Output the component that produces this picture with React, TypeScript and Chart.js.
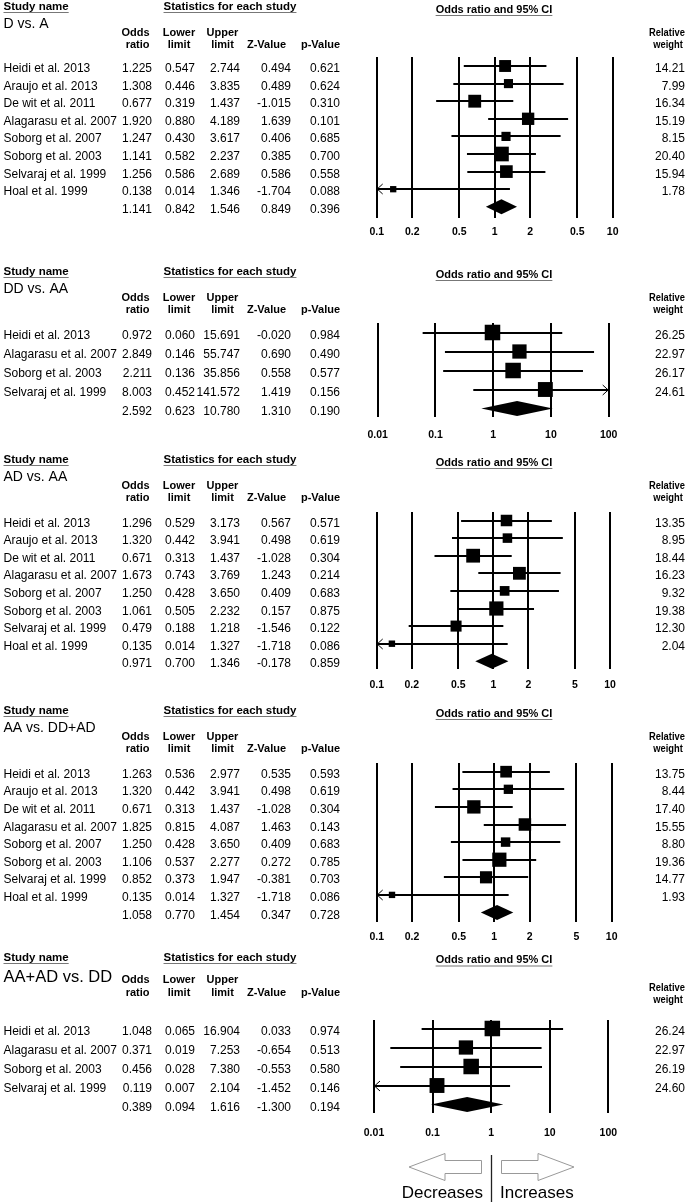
import React, { useEffect, useRef } from 'react';
import { Chart, registerables } from 'chart.js';
Chart.register(...registerables);

const FONT = '"Liberation Sans", Arial, Helvetica, sans-serif';
const W = 697;

// ---------- Panel 1: D vs. A ----------
const p1Title = 'D vs. A';
const p1Studies = ['Heidi et al. 2013', 'Araujo et al. 2013', 'De wit et al. 2011', 'Alagarasu et al. 2007', 'Soborg et al. 2007', 'Soborg et al. 2003', 'Selvaraj et al. 1999', 'Hoal et al. 1999'];
const p1Odds = [1.225, 1.308, 0.677, 1.920, 1.247, 1.141, 1.256, 0.138];
const p1Lower = [0.547, 0.446, 0.319, 0.880, 0.430, 0.582, 0.586, 0.014];
const p1Upper = [2.744, 3.835, 1.437, 4.189, 3.617, 2.237, 2.689, 1.346];
const p1Z = [0.494, 0.489, -1.015, 1.639, 0.406, 0.385, 0.586, -1.704];
const p1P = [0.621, 0.624, 0.310, 0.101, 0.685, 0.700, 0.558, 0.088];
const p1Weight = [14.21, 7.99, 16.34, 15.19, 8.15, 20.40, 15.94, 1.78];
const p1Summary = [1.141, 0.842, 1.546, 0.849, 0.396];
const p1Ticks = [0.1, 0.2, 0.5, 1, 2, 5, 10];
const p1TickLabels = ['0.1', '0.2', '0.5', '1', '2', '0.5', '10'];

// ---------- Panel 2: DD vs. AA ----------
const p2Title = 'DD vs. AA';
const p2Studies = ['Heidi et al. 2013', 'Alagarasu et al. 2007', 'Soborg et al. 2003', 'Selvaraj et al. 1999'];
const p2Odds = [0.972, 2.849, 2.211, 8.003];
const p2Lower = [0.060, 0.146, 0.136, 0.452];
const p2Upper = [15.691, 55.747, 35.856, 141.572];
const p2Z = [-0.020, 0.690, 0.558, 1.419];
const p2P = [0.984, 0.490, 0.577, 0.156];
const p2Weight = [26.25, 22.97, 26.17, 24.61];
const p2Summary = [2.592, 0.623, 10.780, 1.310, 0.190];
const p2Ticks = [0.01, 0.1, 1, 10, 100];
const p2TickLabels = ['0.01', '0.1', '1', '10', '100'];

// ---------- Panel 3: AD vs. AA ----------
const p3Title = 'AD vs. AA';
const p3Studies = ['Heidi et al. 2013', 'Araujo et al. 2013', 'De wit et al. 2011', 'Alagarasu et al. 2007', 'Soborg et al. 2007', 'Soborg et al. 2003', 'Selvaraj et al. 1999', 'Hoal et al. 1999'];
const p3Odds = [1.296, 1.320, 0.671, 1.673, 1.250, 1.061, 0.479, 0.135];
const p3Lower = [0.529, 0.442, 0.313, 0.743, 0.428, 0.505, 0.188, 0.014];
const p3Upper = [3.173, 3.941, 1.437, 3.769, 3.650, 2.232, 1.218, 1.327];
const p3Z = [0.567, 0.498, -1.028, 1.243, 0.409, 0.157, -1.546, -1.718];
const p3P = [0.571, 0.619, 0.304, 0.214, 0.683, 0.875, 0.122, 0.086];
const p3Weight = [13.35, 8.95, 18.44, 16.23, 9.32, 19.38, 12.30, 2.04];
const p3Summary = [0.971, 0.700, 1.346, -0.178, 0.859];
const p3Ticks = [0.1, 0.2, 0.5, 1, 2, 5, 10];
const p3TickLabels = ['0.1', '0.2', '0.5', '1', '2', '5', '10'];

// ---------- Panel 4: AA vs. DD+AD ----------
const p4Title = 'AA vs. DD+AD';
const p4Studies = ['Heidi et al. 2013', 'Araujo et al. 2013', 'De wit et al. 2011', 'Alagarasu et al. 2007', 'Soborg et al. 2007', 'Soborg et al. 2003', 'Selvaraj et al. 1999', 'Hoal et al. 1999'];
const p4Odds = [1.263, 1.320, 0.671, 1.825, 1.250, 1.106, 0.852, 0.135];
const p4Lower = [0.536, 0.442, 0.313, 0.815, 0.428, 0.537, 0.373, 0.014];
const p4Upper = [2.977, 3.941, 1.437, 4.087, 3.650, 2.277, 1.947, 1.327];
const p4Z = [0.535, 0.498, -1.028, 1.463, 0.409, 0.272, -0.381, -1.718];
const p4P = [0.593, 0.619, 0.304, 0.143, 0.683, 0.785, 0.703, 0.086];
const p4Weight = [13.75, 8.44, 17.40, 15.55, 8.80, 19.36, 14.77, 1.93];
const p4Summary = [1.058, 0.770, 1.454, 0.347, 0.728];
const p4Ticks = [0.1, 0.2, 0.5, 1, 2, 5, 10];
const p4TickLabels = ['0.1', '0.2', '0.5', '1', '2', '5', '10'];

// ---------- Panel 5: AA+AD vs. DD ----------
const p5Title = 'AA+AD vs. DD';
const p5Studies = ['Heidi et al. 2013', 'Alagarasu et al. 2007', 'Soborg et al. 2003', 'Selvaraj et al. 1999'];
const p5Odds = [1.048, 0.371, 0.456, 0.119];
const p5Lower = [0.065, 0.019, 0.028, 0.007];
const p5Upper = [16.904, 7.253, 7.380, 2.104];
const p5Z = [0.033, -0.654, -0.553, -1.452];
const p5P = [0.974, 0.513, 0.580, 0.146];
const p5Weight = [26.24, 22.97, 26.19, 24.60];
const p5Summary = [0.389, 0.094, 1.616, -1.300, 0.194];
const p5Ticks = [0.01, 0.1, 1, 10, 100];
const p5TickLabels = ['0.01', '0.1', '1', '10', '100'];

const footerLabels = ['Decreases', 'Increases'];

type PanelData = {
  title: string; studies: string[]; odds: number[]; lower: number[]; upper: number[];
  z: number[]; p: number[]; weight: number[]; summary: number[]; ticks: number[]; tickLabels: string[];
};

type Hdr = { study: number; ci: number; title: number; odds: number; ratio: number; rel: number; weight: number };

type PanelLayout = {
  top: number; height: number; row0: number; step: number; lineTop: number; lineBottom: number;
  tickY: number; xMinPx: number; xMaxPx: number; titleSize: number; hdr: Hdr; sqA: number; sqB: number; footer?: boolean;
};

const hdrStd: Hdr = { study: 10, ci: 12.5, title: 28, odds: 36, ratio: 48, rel: 36, weight: 48 };

const panels: { data: PanelData; layout: PanelLayout }[] = [
  {
    data: { title: p1Title, studies: p1Studies, odds: p1Odds, lower: p1Lower, upper: p1Upper, z: p1Z, p: p1P, weight: p1Weight, summary: p1Summary, ticks: p1Ticks, tickLabels: p1TickLabels },
    layout: { top: 0, height: 265, row0: 66, step: 17.6, lineTop: 57, lineBottom: 218, tickY: 232, xMinPx: 376.7, xMaxPx: 612.7, titleSize: 14, hdr: hdrStd, sqA: 5.5, sqB: 0.45 },
  },
  {
    data: { title: p2Title, studies: p2Studies, odds: p2Odds, lower: p2Lower, upper: p2Upper, z: p2Z, p: p2P, weight: p2Weight, summary: p2Summary, ticks: p2Ticks, tickLabels: p2TickLabels },
    layout: { top: 265, height: 188, row0: 332.5, step: 19, lineTop: 323, lineBottom: 417, tickY: 435, xMinPx: 377.7, xMaxPx: 608.7, titleSize: 14, hdr: hdrStd, sqA: 5.3, sqB: 0.39 },
  },
  {
    data: { title: p3Title, studies: p3Studies, odds: p3Odds, lower: p3Lower, upper: p3Upper, z: p3Z, p: p3P, weight: p3Weight, summary: p3Summary, ticks: p3Ticks, tickLabels: p3TickLabels },
    layout: { top: 453, height: 251, row0: 520.5, step: 17.6, lineTop: 512, lineBottom: 669, tickY: 685, xMinPx: 376.7, xMaxPx: 610, titleSize: 14, hdr: hdrStd, sqA: 5.5, sqB: 0.45 },
  },
  {
    data: { title: p4Title, studies: p4Studies, odds: p4Odds, lower: p4Lower, upper: p4Upper, z: p4Z, p: p4P, weight: p4Weight, summary: p4Summary, ticks: p4Ticks, tickLabels: p4TickLabels },
    layout: { top: 704, height: 246, row0: 771.7, step: 17.6, lineTop: 763, lineBottom: 921.5, tickY: 937, xMinPx: 376.7, xMaxPx: 611.7, titleSize: 14, hdr: hdrStd, sqA: 5.5, sqB: 0.45 },
  },
  {
    data: { title: p5Title, studies: p5Studies, odds: p5Odds, lower: p5Lower, upper: p5Upper, z: p5Z, p: p5P, weight: p5Weight, summary: p5Summary, ticks: p5Ticks, tickLabels: p5TickLabels },
    layout: { top: 950, height: 252, row0: 1028.5, step: 19, lineTop: 1020, lineBottom: 1113, tickY: 1133, xMinPx: 374, xMaxPx: 608.3, titleSize: 16.5,
      hdr: { study: 11, ci: 13, title: 32, odds: 33, ratio: 46, rel: 41, weight: 53 }, sqA: 5.3, sqB: 0.39, footer: true },
  },
];

function ForestPanel({ data, layout }: { data: PanelData; layout: PanelLayout }) {
  const ref = useRef<HTMLCanvasElement>(null);
  useEffect(() => {
    const canvas = ref.current!;
    const D = data;
    const L = layout;
    const n = D.studies.length;
    const yMin = (L.lineTop - L.row0) / L.step;
    const yMax = (L.lineBottom - L.row0) / L.step;
    const axisH = L.tickY - L.lineBottom + 10;
    const tickSize = 10.5;
    const tickPad = L.tickY - L.lineBottom - (tickSize * 1.2) / 2;
    const xMinVal = D.ticks[0];
    const xMaxVal = D.ticks[D.ticks.length - 1];
    const sq = D.weight.map((wt) => (L.sqA + L.sqB * wt) / Math.SQRT2);

    const forestPlugin = {
      id: 'forest',
      beforeDatasetsDraw(chart: any) {
        const { ctx } = chart;
        const x = chart.scales.x;
        const y = chart.scales.y;
        ctx.save();
        ctx.strokeStyle = '#000';
        ctx.fillStyle = '#000';
        for (let i = 0; i < n; i++) {
          const lo = Math.max(D.lower[i], xMinVal);
          const hi = Math.min(D.upper[i], xMaxVal);
          const py = Math.round(y.getPixelForValue(i));
          const x1 = x.getPixelForValue(lo);
          const x2 = x.getPixelForValue(hi);
          ctx.lineWidth = 2;
          ctx.beginPath();
          ctx.moveTo(x1, py);
          ctx.lineTo(x2, py);
          ctx.stroke();
          ctx.lineWidth = 1;
          if (D.lower[i] < xMinVal) {
            ctx.beginPath();
            ctx.moveTo(x1 + 6, py - 5);
            ctx.lineTo(x1 + 0.5, py);
            ctx.lineTo(x1 + 6, py + 5);
            ctx.stroke();
          }
          if (D.upper[i] > xMaxVal) {
            ctx.beginPath();
            ctx.moveTo(x2 - 6, py - 5);
            ctx.lineTo(x2 - 0.5, py);
            ctx.lineTo(x2 - 6, py + 5);
            ctx.stroke();
          }
        }
        // summary diamond
        const sy = y.getPixelForValue(n);
        const h = 7.5;
        ctx.beginPath();
        ctx.moveTo(x.getPixelForValue(D.summary[1]), sy);
        ctx.lineTo(x.getPixelForValue(D.summary[0]), sy - h);
        ctx.lineTo(x.getPixelForValue(D.summary[2]), sy);
        ctx.lineTo(x.getPixelForValue(D.summary[0]), sy + h);
        ctx.closePath();
        ctx.fill();
        ctx.restore();
      },
    };

    const textPlugin = {
      id: 'texts',
      afterDraw(chart: any) {
        const { ctx } = chart;
        const x = chart.scales.x;
        const y = chart.scales.y;
        const H = L.hdr;
        const put = (s: string, px: number, py: number, align: CanvasTextAlign, font: string) => {
          ctx.font = font;
          ctx.textAlign = align;
          ctx.textBaseline = 'alphabetic';
          ctx.fillText(s, px, py);
        };
        const underline = (x1: number, x2: number, py: number) => {
          ctx.save();
          ctx.strokeStyle = '#777';
          ctx.lineWidth = 1;
          ctx.beginPath();
          ctx.moveTo(x1, py + 0.5);
          ctx.lineTo(x2, py + 0.5);
          ctx.stroke();
          ctx.restore();
        };
        ctx.save();
        ctx.fillStyle = '#000';
        const bold115 = `bold 11.5px ${FONT}`;
        const bold11 = `bold 11px ${FONT}`;
        const reg12 = `12px ${FONT}`;
        // top headings
        put('Study name', 3.5, H.study, 'left', bold115);
        let w = ctx.measureText('Study name').width;
        underline(3.5, 3.5 + w, H.study + 2);
        put('Statistics for each study', 230, H.study, 'center', bold115);
        w = ctx.measureText('Statistics for each study').width;
        underline(230 - w / 2, 230 + w / 2, H.study + 2);
        put('Odds ratio and 95% CI', 494, H.ci, 'center', bold11);
        w = ctx.measureText('Odds ratio and 95% CI').width;
        underline(494 - w / 2, 494 + w / 2, H.ci + 2.5);
        // title
        put(D.title, 3.5, H.title, 'left', `${L.titleSize}px ${FONT}`);
        // column headers
        put('Odds', 149.5, H.odds, 'right', bold11);
        put('ratio', 149.5, H.ratio, 'right', bold11);
        put('Lower', 179, H.odds, 'center', bold11);
        put('limit', 179, H.ratio, 'center', bold11);
        put('Upper', 222.5, H.odds, 'center', bold11);
        put('limit', 222.5, H.ratio, 'center', bold11);
        put('Z-Value', 266.5, H.ratio, 'center', bold11);
        put('p-Value', 320.5, H.ratio, 'center', bold11);
        const squeezed = (s: string, cx: number, py: number) => {
          ctx.save();
          ctx.translate(cx, py);
          ctx.scale(0.85, 1);
          put(s, 0, 0, 'center', bold11);
          ctx.restore();
        };
        squeezed('Relative', 667, H.rel);
        squeezed('weight', 668, H.weight);
        // rows
        const cols = (vals: number[], py: number) => {
          put(vals[0].toFixed(3), 152, py, 'right', reg12);
          put(vals[1].toFixed(3), 195, py, 'right', reg12);
          put(vals[2].toFixed(3), 240, py, 'right', reg12);
          put(vals[3].toFixed(3), 291, py, 'right', reg12);
          put(vals[4].toFixed(3), 340, py, 'right', reg12);
        };
        for (let i = 0; i < n; i++) {
          const py = y.getPixelForValue(i) + 6;
          put(D.studies[i], 3.5, py, 'left', reg12);
          cols([D.odds[i], D.lower[i], D.upper[i], D.z[i], D.p[i]], py);
          put(D.weight[i].toFixed(2), 685, py, 'right', reg12);
        }
        cols(D.summary, y.getPixelForValue(n) + 6);

        if (L.footer) {
          const cx = Math.round(x.getPixelForValue(1)) + 0.5;
          const base = 1167 - L.top;
          ctx.strokeStyle = '#222';
          ctx.lineWidth = 1.3;
          ctx.beginPath();
          ctx.moveTo(cx, 1155 - L.top);
          ctx.lineTo(cx, L.height);
          ctx.stroke();
          ctx.strokeStyle = '#999';
          ctx.fillStyle = '#fff';
          ctx.lineWidth = 1;
          for (const dir of [-1, 1]) {
            ctx.beginPath();
            ctx.moveTo(cx + dir * 10, base - 6.5);
            ctx.lineTo(cx + dir * 46.5, base - 6.5);
            ctx.lineTo(cx + dir * 46.5, base - 13.5);
            ctx.lineTo(cx + dir * 82.5, base);
            ctx.lineTo(cx + dir * 46.5, base + 13.5);
            ctx.lineTo(cx + dir * 46.5, base + 6.5);
            ctx.lineTo(cx + dir * 10, base + 6.5);
            ctx.closePath();
            ctx.fill();
            ctx.stroke();
          }
          ctx.fillStyle = '#000';
          put(footerLabels[0], cx - 8.5, 1198 - L.top, 'right', `17px ${FONT}`);
          put(footerLabels[1], cx + 8.5, 1198 - L.top, 'left', `17px ${FONT}`);
        }
        ctx.restore();
      },
    };

    const chart = new Chart(canvas, {
      type: 'scatter',
      data: {
        datasets: [
          {
            data: D.odds.map((v, i) => ({ x: v, y: i })),
            pointStyle: 'rect',
            pointRadius: sq,
            pointHoverRadius: sq,
            backgroundColor: '#000',
            borderWidth: 0,
            clip: false,
          } as any,
        ],
      },
      options: {
        animation: false,
        responsive: false,
        maintainAspectRatio: false,
        events: [],
        layout: {
          padding: {
            left: L.xMinPx,
            right: W - L.xMaxPx,
            top: L.lineTop - L.top,
            bottom: L.height - (L.lineBottom - L.top) - axisH,
          },
        },
        plugins: { legend: { display: false }, tooltip: { enabled: false } },
        scales: {
          x: {
            type: 'logarithmic',
            position: 'bottom',
            min: xMinVal,
            max: xMaxVal,
            afterBuildTicks: (s: any) => {
              s.ticks = D.ticks.map((v) => ({ value: v }));
            },
            afterFit: (s: any) => {
              s.height = axisH;
            },
            grid: { color: '#000', lineWidth: 2, drawTicks: false, offset: false },
            border: { display: false },
            ticks: {
              autoSkip: false,
              maxRotation: 0,
              minRotation: 0,
              padding: tickPad,
              color: '#000',
              font: { family: FONT, size: tickSize, weight: 'bold' },
              callback: (_v: any, i: number) => D.tickLabels[i],
            },
          } as any,
          y: {
            type: 'linear',
            display: false,
            reverse: true,
            min: yMin,
            max: yMax,
          },
        },
      },
      plugins: [forestPlugin, textPlugin],
    });
    return () => chart.destroy();
  }, [data, layout]);
  return (
    <canvas
      ref={ref}
      width={W}
      height={layout.height}
      style={{ position: 'absolute', left: 0, top: layout.top, width: W, height: layout.height }}
    />
  );
}

export default function App() {
  return (
    <div style={{ position: 'absolute', left: 0, top: 0, width: W, height: 1202, background: '#fff', overflow: 'hidden' }}>
      {panels.map((pn, i) => (
        <ForestPanel key={i} data={pn.data} layout={pn.layout} />
      ))}
    </div>
  );
}
